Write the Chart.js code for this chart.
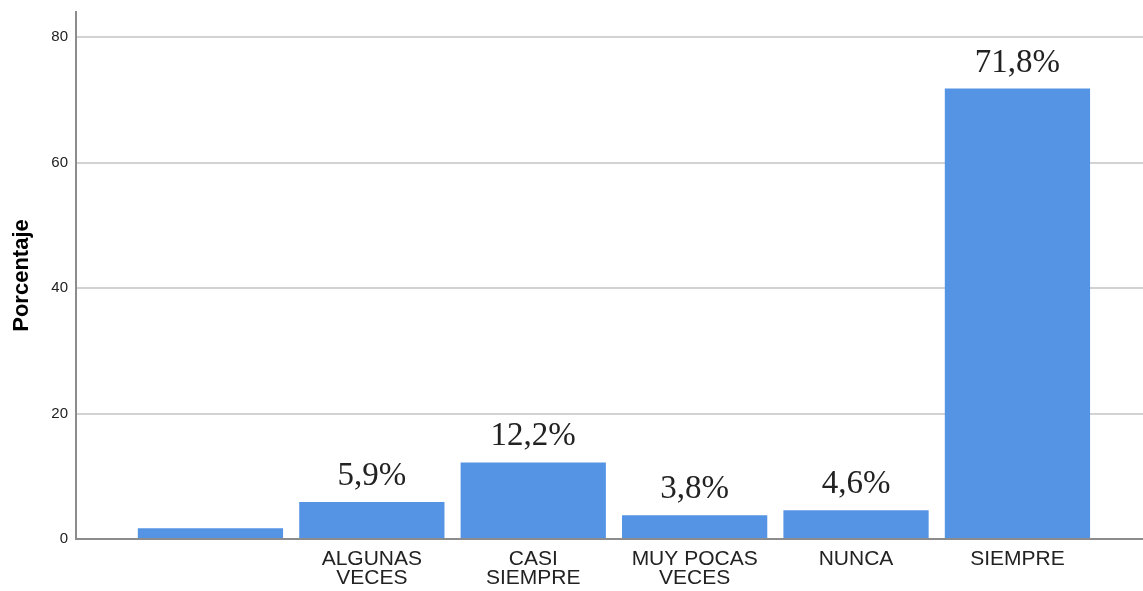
<!DOCTYPE html>
<html>
<head>
<meta charset="utf-8">
<script src="https://cdn.jsdelivr.net/npm/chart.js"></script>
<style>
  html,body{margin:0;padding:0;background:#fff;}
  #wrap{width:1143px;height:591px;}
</style>
</head>
<body>
<div id="wrap"><canvas id="c" width="1143" height="591"></canvas></div>
<script>
// data
const categories = [[''], ['ALGUNAS', 'VECES'], ['CASI', 'SIEMPRE'], ['MUY POCAS', 'VECES'], ['NUNCA'], ['SIEMPRE']];
const values = [1.7, 5.9, 12.2, 3.8, 4.6, 71.8];
const yTicks = [0, 20, 40, 60, 80];
const barLabels = values.map((v, i) => i === 0 ? '' : v.toFixed(1).replace('.', ',') + '%');

const barColor = '#5594e4';
const axisColor = '#8c8c8c';
const gridColor = '#d2d2d2';

const valueLabels = {
  id: 'valueLabels',
  afterDatasetsDraw(chart){
    const ctx = chart.ctx;
    const meta = chart.getDatasetMeta(0);
    ctx.save();
    ctx.font = '33px "Liberation Serif", "Times New Roman", serif';
    ctx.fillStyle = '#222';
    ctx.textAlign = 'center';
    ctx.textBaseline = 'alphabetic';
    meta.data.forEach((bar, i) => {
      if (!barLabels[i]) return;
      ctx.fillText(barLabels[i], bar.x, bar.y - 17);
    });
    ctx.restore();
  }
};

new Chart(document.getElementById('c').getContext('2d'), {
  type: 'bar',
  data: {
    datasets: [{
      data: values.map((v, i) => ({x: i, y: v})),
      backgroundColor: barColor,
      borderWidth: 0,
      barPercentage: 0.9,
      categoryPercentage: 1
    }]
  },
  options: {
    responsive: false,
    animation: false,
    layout: {padding: {top: 12, right: 0, left: 0, bottom: 0}},
    plugins: {legend: {display: false}, tooltip: {enabled: false}},
    scales: {
      x: {
        type: 'linear',
        bounds: 'data',
        offset: false,
        min: -0.833,
        max: 5.778,
        afterBuildTicks: s => { s.ticks = categories.map((c, i) => ({value: i})); },
        afterFit: s => { s.height = 52; s.paddingLeft = 0; s.paddingRight = 0; },
        grid: {display: false, drawTicks: false, offset: false},
        border: {color: axisColor, width: 2},
        ticks: {
          padding: 10,
          autoSkip: false,
          maxRotation: 0,
          color: '#222',
          font: {family: '"Liberation Sans", Arial, sans-serif', size: 21, lineHeight: 0.93},
          callback: v => categories[v]
        }
      },
      y: {
        min: 0,
        max: 84,
        afterBuildTicks: s => { s.ticks = yTicks.map(v => ({value: v})); },
        afterFit: s => { s.width = 76; s.paddingTop = 0; s.paddingBottom = 0; },
        grid: {color: gridColor, lineWidth: 2, drawTicks: false},
        border: {color: axisColor, width: 2},
        ticks: {
          padding: 8,
          color: '#222',
          font: {family: '"Liberation Sans", Arial, sans-serif', size: 15}
        },
        title: {
          display: true,
          text: 'Porcentaje',
          color: '#000',
          padding: {top: 9, bottom: 0},
          font: {family: '"Liberation Sans", Arial, sans-serif', size: 22, weight: 'bold'}
        }
      }
    }
  },
  plugins: [valueLabels]
});
</script>
</body>
</html>
